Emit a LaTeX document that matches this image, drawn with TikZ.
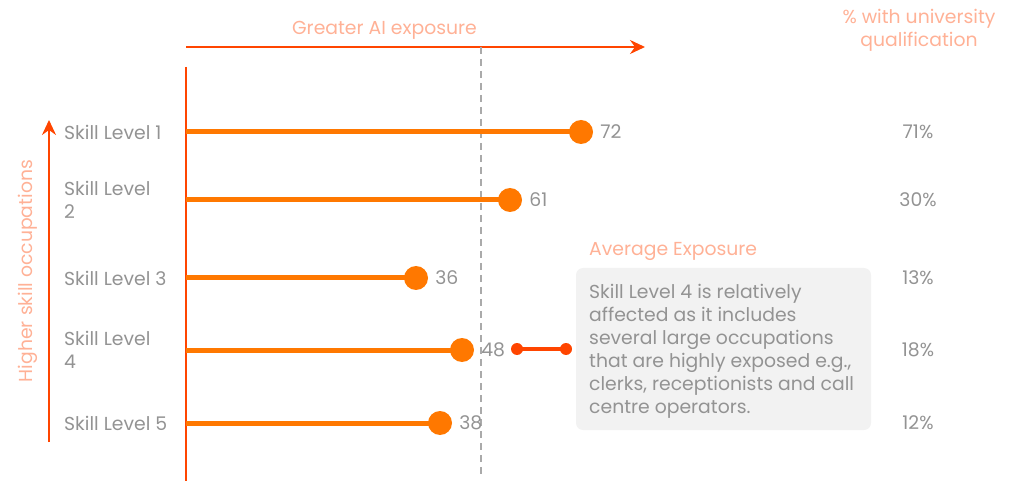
\documentclass[tikz,border=0pt]{standalone}
\usepackage{fontspec}
\setmainfont{Poppins}
\usetikzlibrary{arrows.meta}
\definecolor{arrowred}{HTML}{FF4500}
\definecolor{barorange}{HTML}{FF7800}
\definecolor{salmon}{HTML}{FFB196}
\definecolor{txtgray}{HTML}{939393}
\definecolor{boxgray}{HTML}{F2F2F2}
\definecolor{dashgray}{HTML}{AAAAAA}
\begin{document}
\begin{tikzpicture}[x=1pt,y=-1pt,
  font=\fontsize{18.8}{23}\selectfont,
  lbl/.style={anchor=west, inner sep=0pt, text=txtgray, align=left},
  val/.style={anchor=west, inner sep=0pt, text=txtgray},
  pct/.style={inner sep=0pt, text=txtgray},
  ttl/.style={inner sep=0pt, text=salmon, align=center},
  dotnode/.style={circle, fill=barorange, minimum size=24pt, inner sep=0pt},
  rdot/.style={circle, fill=arrowred, minimum size=12pt, inner sep=0pt},
  barline/.style={barorange, line width=5pt},
  axisline/.style={arrowred, line width=2pt},
  arrowline/.style={arrowred, line width=2.2pt, -{Stealth[length=15pt,width=14pt,inset=5pt]}},
  redline/.style={arrowred, line width=3.5pt},
  avgline/.style={dashgray, line width=1.6pt, dash pattern=on 7pt off 5pt},
  notebox/.style={fill=boxgray, rounded corners=7pt, minimum width=295pt, minimum height=162pt, inner sep=0pt}
]
\useasboundingbox (0,0) rectangle (1018,481);

% axes and arrows
\coordinate (ta0) at (186,47);
\coordinate (ta1) at (645,47);
\draw[arrowline] (ta0) -- (ta1);
\node[ttl] (ttop) at (384.5,30.5) {Greater AI exposure};

\coordinate (va0) at (186,67);
\coordinate (va1) at (186,481);
\draw[axisline] (va0) -- (va1);

\coordinate (la0) at (49,442);
\coordinate (la1) at (49,120);
\draw[arrowline] (la0) -- (la1);
\node[ttl, rotate=90] (tleft) at (28,271) {Higher skill occupations};

\coordinate (avg0) at (481,47);
\coordinate (avg1) at (481,476);
\draw[avgline] (avg0) -- (avg1);

\node[ttl] (tright) at (919,30) {\% with university\\qualification};

% rows
\foreach \i/\y/\x/\v/\p/\lab in {1/132/581/72/71\%/{Skill Level 1},
                                  2/200/510/61/30\%/{Skill Level\\2},
                                  3/278/416/36/13\%/{Skill Level 3},
                                  4/350/462/48/18\%/{Skill Level\\4},
                                  5/423/440/38/12\%/{Skill Level 5}}{
  \node[lbl] (l\i) at (64,\y) {\lab};
  \coordinate (s\i) at (186,\y);
  \node[dotnode] (d\i) at (\x,\y) {};
  \draw[barline] (s\i) -- (d\i.center);
  \node[val] (v\i) at ([xshift=7pt]d\i.east) {\v};
  \node[pct] (p\i) at (918,\y) {\p};
}

% annotation
\node[ttl, anchor=west] (tavg) at (589,251) {Average Exposure};
\node[notebox] (box) at (723.5,349) {};
\node[anchor=north west, inner sep=0pt, text=txtgray, align=left] (boxtxt) at (589,284)
  {Skill Level 4 is relatively\\affected as it includes\\several large occupations\\that are highly exposed e.g.,\\clerks, receptionists and call\\centre operators.};
\node[rdot] (r1) at (517,349) {};
\node[rdot] (r2) at (566,349) {};
\draw[redline] (r1.center) -- (r2.center);
\end{tikzpicture}
\end{document}
